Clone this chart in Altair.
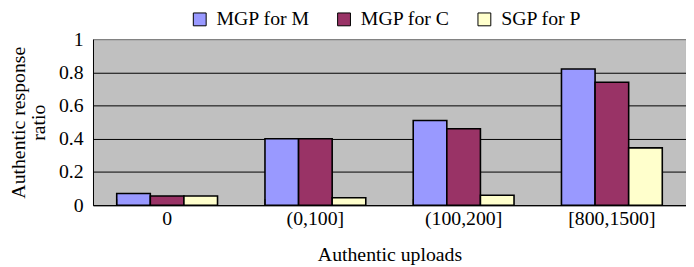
import altair as alt
import pandas as pd

categories = ["0", "(0,100]", "(100,200]", "[800,1500]"]
series = ["MGP for M", "MGP for C", "SGP for P"]
mgp_m = [0.07, 0.40, 0.51, 0.82]
mgp_c = [0.055, 0.40, 0.46, 0.74]
sgp_p = [0.055, 0.045, 0.06, 0.345]
colors = ["#9999FF", "#993366", "#FFFFCC"]
y_ticks = [0, 0.2, 0.4, 0.6, 0.8, 1]

rows = []
for s, vals in zip(series, [mgp_m, mgp_c, sgp_p]):
    for c, v in zip(categories, vals):
        rows.append({"cat": c, "series": s, "value": v})
df = pd.DataFrame(rows)

FONT = "Liberation Serif"
W, H = 600, 168

x_enc = alt.X(
    "cat:N",
    sort=categories,
    scale=alt.Scale(paddingInner=0.32, paddingOuter=0.16),
    axis=alt.Axis(
        title="Authentic uploads",
        labelAngle=0,
        ticks=False,
        labelPadding=4,
        titlePadding=16,
        domainColor="black",
        domainWidth=1,
        labelFont=FONT, labelFontSize=20, labelColor="black",
        titleFont=FONT, titleFontSize=20, titleFontWeight="normal", titleColor="black",
    ),
)

bars = alt.Chart(df).mark_bar(stroke="black", strokeWidth=1.6).encode(
    x=x_enc,
    xOffset=alt.XOffset("series:N", sort=series, scale=alt.Scale(paddingInner=0, paddingOuter=0)),
    y=alt.Y(
        "value:Q",
        scale=alt.Scale(domain=[0, 1], nice=False),
        axis=alt.Axis(
            title=["Authentic response", "ratio"],
            values=y_ticks,
            format="~g",
            ticks=False,
            labelPadding=10,
            titlePadding=10,
            titleLineHeight=20,
            grid=True,
            gridColor=alt.condition(alt.datum.value == 1, alt.value("#808080"), alt.value("black")),
            gridWidth=1,
            domainColor="black",
            domainWidth=1,
            labelFont=FONT, labelFontSize=20, labelColor="black",
            titleFont=FONT, titleFontSize=20, titleFontWeight="normal", titleColor="black",
        ),
    ),
    color=alt.Color(
        "series:N",
        sort=series,
        scale=alt.Scale(domain=series, range=colors),
        legend=alt.Legend(
            orient="none",
            legendX=98,
            legendY=-30,
            direction="horizontal",
            title=None,
            symbolType="square",
            symbolSize=169,
            symbolStrokeColor="black",
            symbolStrokeWidth=1,
            symbolOpacity=1,
            labelFont=FONT,
            labelFontSize=20,
            labelColor="black",
            labelOffset=7,
            columnPadding=24,
            padding=0,
        ),
    ),
)

ticks = alt.Chart(pd.DataFrame({"cat": categories})).mark_rule(color="black", strokeWidth=1).encode(
    x=alt.X("cat:N", sort=categories, bandPosition=0),
    y=alt.value(H - 6),
    y2=alt.value(H),
)

chart = (
    alt.layer(bars, ticks)
    .properties(
        width=W,
        height=H,
        autosize=alt.AutoSizeParams(type="none"),
        padding={"left": 86, "top": 30, "right": 0, "bottom": 59},
        background="white",
    )
    .configure(font=FONT)
    .configure_legend(labelFont=FONT, labelFontSize=20, labelColor="black")
    .configure_view(stroke="#808080", strokeWidth=1, fill="#C0C0C0")
)

chart.save("out.html", embed_options={"renderer": "svg", "actions": False})
